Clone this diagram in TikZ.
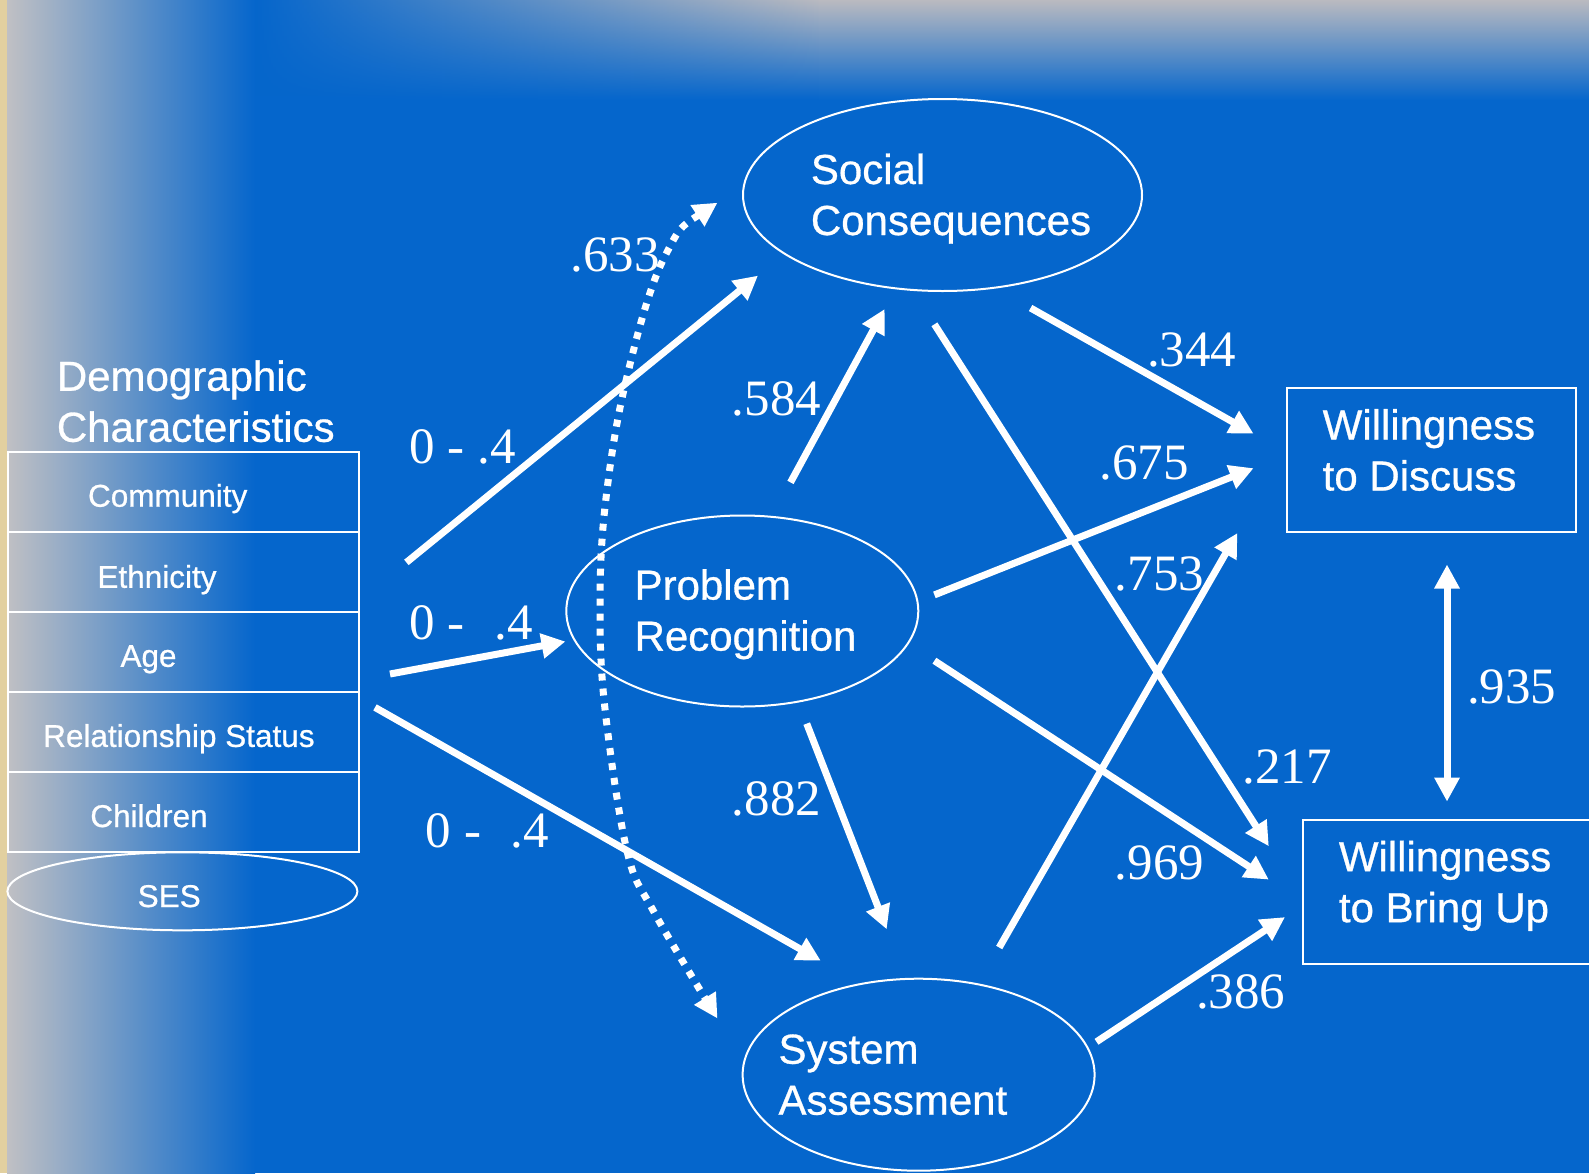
\documentclass[tikz,border=0pt]{standalone}
\usepackage{fontspec}
\setmainfont{Liberation Sans}[FakeBold=0.7]
\newfontfamily\numfont{Liberation Serif}
\usetikzlibrary{arrows.meta,shapes.geometric,fadings}
\definecolor{bg}{RGB}{5,102,204}
\definecolor{sidegray}{RGB}{192,192,196}
\definecolor{topgray}{RGB}{186,186,192}
\definecolor{tanstrip}{RGB}{226,208,160}
\tikzfading[name=fadeR, left color=transparent!0, right color=transparent!100]
\begin{document}
\begin{tikzpicture}[x=1pt,y=-1pt,
  lbl/.style={text=white, inner sep=0pt, anchor=base west},
  big/.style={font=\fontsize{42}{51}\selectfont},
  rowtxt/.style={text=white, inner sep=0pt, anchor=base, font=\fontsize{31.5}{36}\selectfont},
  num/.style={text=white, inner sep=0pt, anchor=base west, font=\numfont\fontsize{51}{56}\selectfont},
  oval/.style={draw=white, line width=2pt, ellipse, inner sep=0pt},
  box/.style={draw=white, line width=2pt, rectangle, inner sep=0pt, anchor=north west},
  arr/.style={draw=white, line width=7pt, -{Triangle[length=24pt,width=24pt]}},
  dblarr/.style={draw=white, line width=7pt, {Triangle[length=24pt,width=24pt]}-{Triangle[length=24pt,width=24pt]}},
  dotarr/.style={draw=white, line width=7pt, dash pattern=on 7pt off 8pt, {Triangle[length=24pt,width=24pt]}-{Triangle[length=24pt,width=24pt]}},
]
\useasboundingbox (0,0) rectangle (1589,1173);
\clip (0,0) rectangle (1589,1173);
% background
\fill[bg] (0,0) rectangle (1589,1173);
\shade[left color=sidegray, right color=bg] (7,0) rectangle (255,1173);
\fill[tanstrip] (0,0) rectangle (7,1173);
\shade[top color=topgray, bottom color=bg] (255,0) rectangle (1589,100);
\fill[bg, path fading=fadeR] (255,0) rectangle (820,100);

% ellipses
\node[oval, minimum width=399pt, minimum height=192pt] (sc) at (942.5,195) {};
\node[oval, minimum width=352pt, minimum height=191pt] (pr) at (742.3,611) {};
\node[oval, minimum width=352pt, minimum height=192pt] (sa) at (918.6,1074.7) {};
\node[lbl,big] (tsc) at (810.7,235) {\begin{tabular}[b]{@{}l@{}}Social\\Consequences\end{tabular}};
\node[lbl,big] (tpr) at (634.4,650.6) {\begin{tabular}[b]{@{}l@{}}Problem\\Recognition\end{tabular}};
\node[lbl,big] (tsa) at (778.3,1114.7) {\begin{tabular}[b]{@{}l@{}}System\\Assessment\end{tabular}};

% outcome boxes
\node[box, minimum width=289pt, minimum height=144pt] (wd) at (1286,387) {};
\node[box, minimum width=300pt, minimum height=144pt] (wb) at (1302,819) {};
\node[lbl,big] (twd) at (1322.5,490.5) {\begin{tabular}[b]{@{}l@{}}Willingness\\to Discuss\end{tabular}};
\node[lbl,big] (twb) at (1338.7,922.2) {\begin{tabular}[b]{@{}l@{}}Willingness\\to Bring Up\end{tabular}};

% demographic block
\node[lbl,big] (tdem) at (56.7,441.8) {\begin{tabular}[b]{@{}l@{}}Demographic\\Characteristics\end{tabular}};
\node[box, minimum width=351pt, minimum height=80pt] (r1) at (7,451) {};
\node[box, minimum width=351pt, minimum height=80pt] (r2) at (7,531) {};
\node[box, minimum width=351pt, minimum height=80pt] (r3) at (7,611) {};
\node[box, minimum width=351pt, minimum height=80pt] (r4) at (7,691) {};
\node[box, minimum width=351pt, minimum height=80pt] (r5) at (7,771) {};
\node[oval, minimum width=350pt, minimum height=78pt] (ses) at (182.4,891.3) {};
\node[rowtxt] (t1) at (167.7,506.7) {Community};
\node[rowtxt] (t2) at (157,587.8) {Ethnicity};
\node[rowtxt] (t3) at (148.5,666.8) {Age};
\node[rowtxt] (t4) at (178.9,746.9) {Relationship Status};
\node[rowtxt] (t5) at (149,827) {Children};
\node[rowtxt] (t6) at (169.2,907) {SES};

% connector end points
\coordinate (d1s) at (406.4,562.4);  \coordinate (d1e) at (758,275.6);
\coordinate (d2s) at (390,674);      \coordinate (d2e) at (565.5,641.5);
\coordinate (d3s) at (375,707.4);    \coordinate (d3e) at (820.8,960.7);
\coordinate (p1s) at (790.5,482.4);  \coordinate (p1e) at (884.7,309);
\coordinate (p2s) at (806.7,723.6);  \coordinate (p2e) at (886.7,929.3);
\coordinate (s1s) at (1030.6,308);   \coordinate (s1e) at (1253.6,433.7);
\coordinate (s2s) at (934.4,324.3);  \coordinate (s2e) at (1268.8,846.2);
\coordinate (q1s) at (934.4,594.9);  \coordinate (q1e) at (1253.6,468.2);
\coordinate (q2s) at (934.4,660.7);  \coordinate (q2e) at (1268.8,879.6);
\coordinate (a1s) at (999.2,947.5);  \coordinate (a1e) at (1237.4,533);
\coordinate (a2s) at (1096.5,1041.8);\coordinate (a2e) at (1285,917.1);
\coordinate (ws) at (1447,564.5);    \coordinate (we) at (1447,801.6);
\coordinate (ct) at (717.5,202.7);   \coordinate (cb) at (717.5,1018.5);

% connectors
\draw[arr] (d1s) -- (d1e);
\draw[arr] (d2s) -- (d2e);
\draw[arr] (d3s) -- (d3e);
\draw[arr] (p1s) -- (p1e);
\draw[arr] (p2s) -- (p2e);
\draw[arr] (s1s) -- (s1e);
\draw[arr] (s2s) -- (s2e);
\draw[arr] (q1s) -- (q1e);
\draw[arr] (q2s) -- (q2e);
\draw[arr] (a1s) -- (a1e);
\draw[arr] (a2s) -- (a2e);
\draw[dblarr] (ws) -- (we);
\draw[dotarr] plot[smooth, tension=0.6] coordinates {(ct) (664,258) (625,385) (605,507) (600,608) (605,709) (627,851) (654,912) (cb)};

% coefficients
\node[num] (n1) at (570.5,271.6) {.633};
\node[num] (n2) at (731.7,415.5) {.584};
\node[num] (n3) at (731.7,815.8) {.882};
\node[num] (n4) at (1147,366.8) {.344};
\node[num] (n5) at (1099.5,479) {.675};
\node[num] (n6) at (1114.7,590.8) {.753};
\node[num] (n7) at (1242.4,783.4) {.217};
\node[num] (n8) at (1114.7,879.6) {.969};
\node[num] (n9) at (1195.8,1008) {.386};
\node[num] (n10) at (1467,703.3) {.935};
\node[num] (n11) at (409.4,463) {0 - .4};
\node[num] (n12) at (409.4,639.5) {0 - \hspace{17pt}.4};
\node[num] (n13) at (425.6,847) {0 - \hspace{17pt}.4};
\end{tikzpicture}
\end{document}
